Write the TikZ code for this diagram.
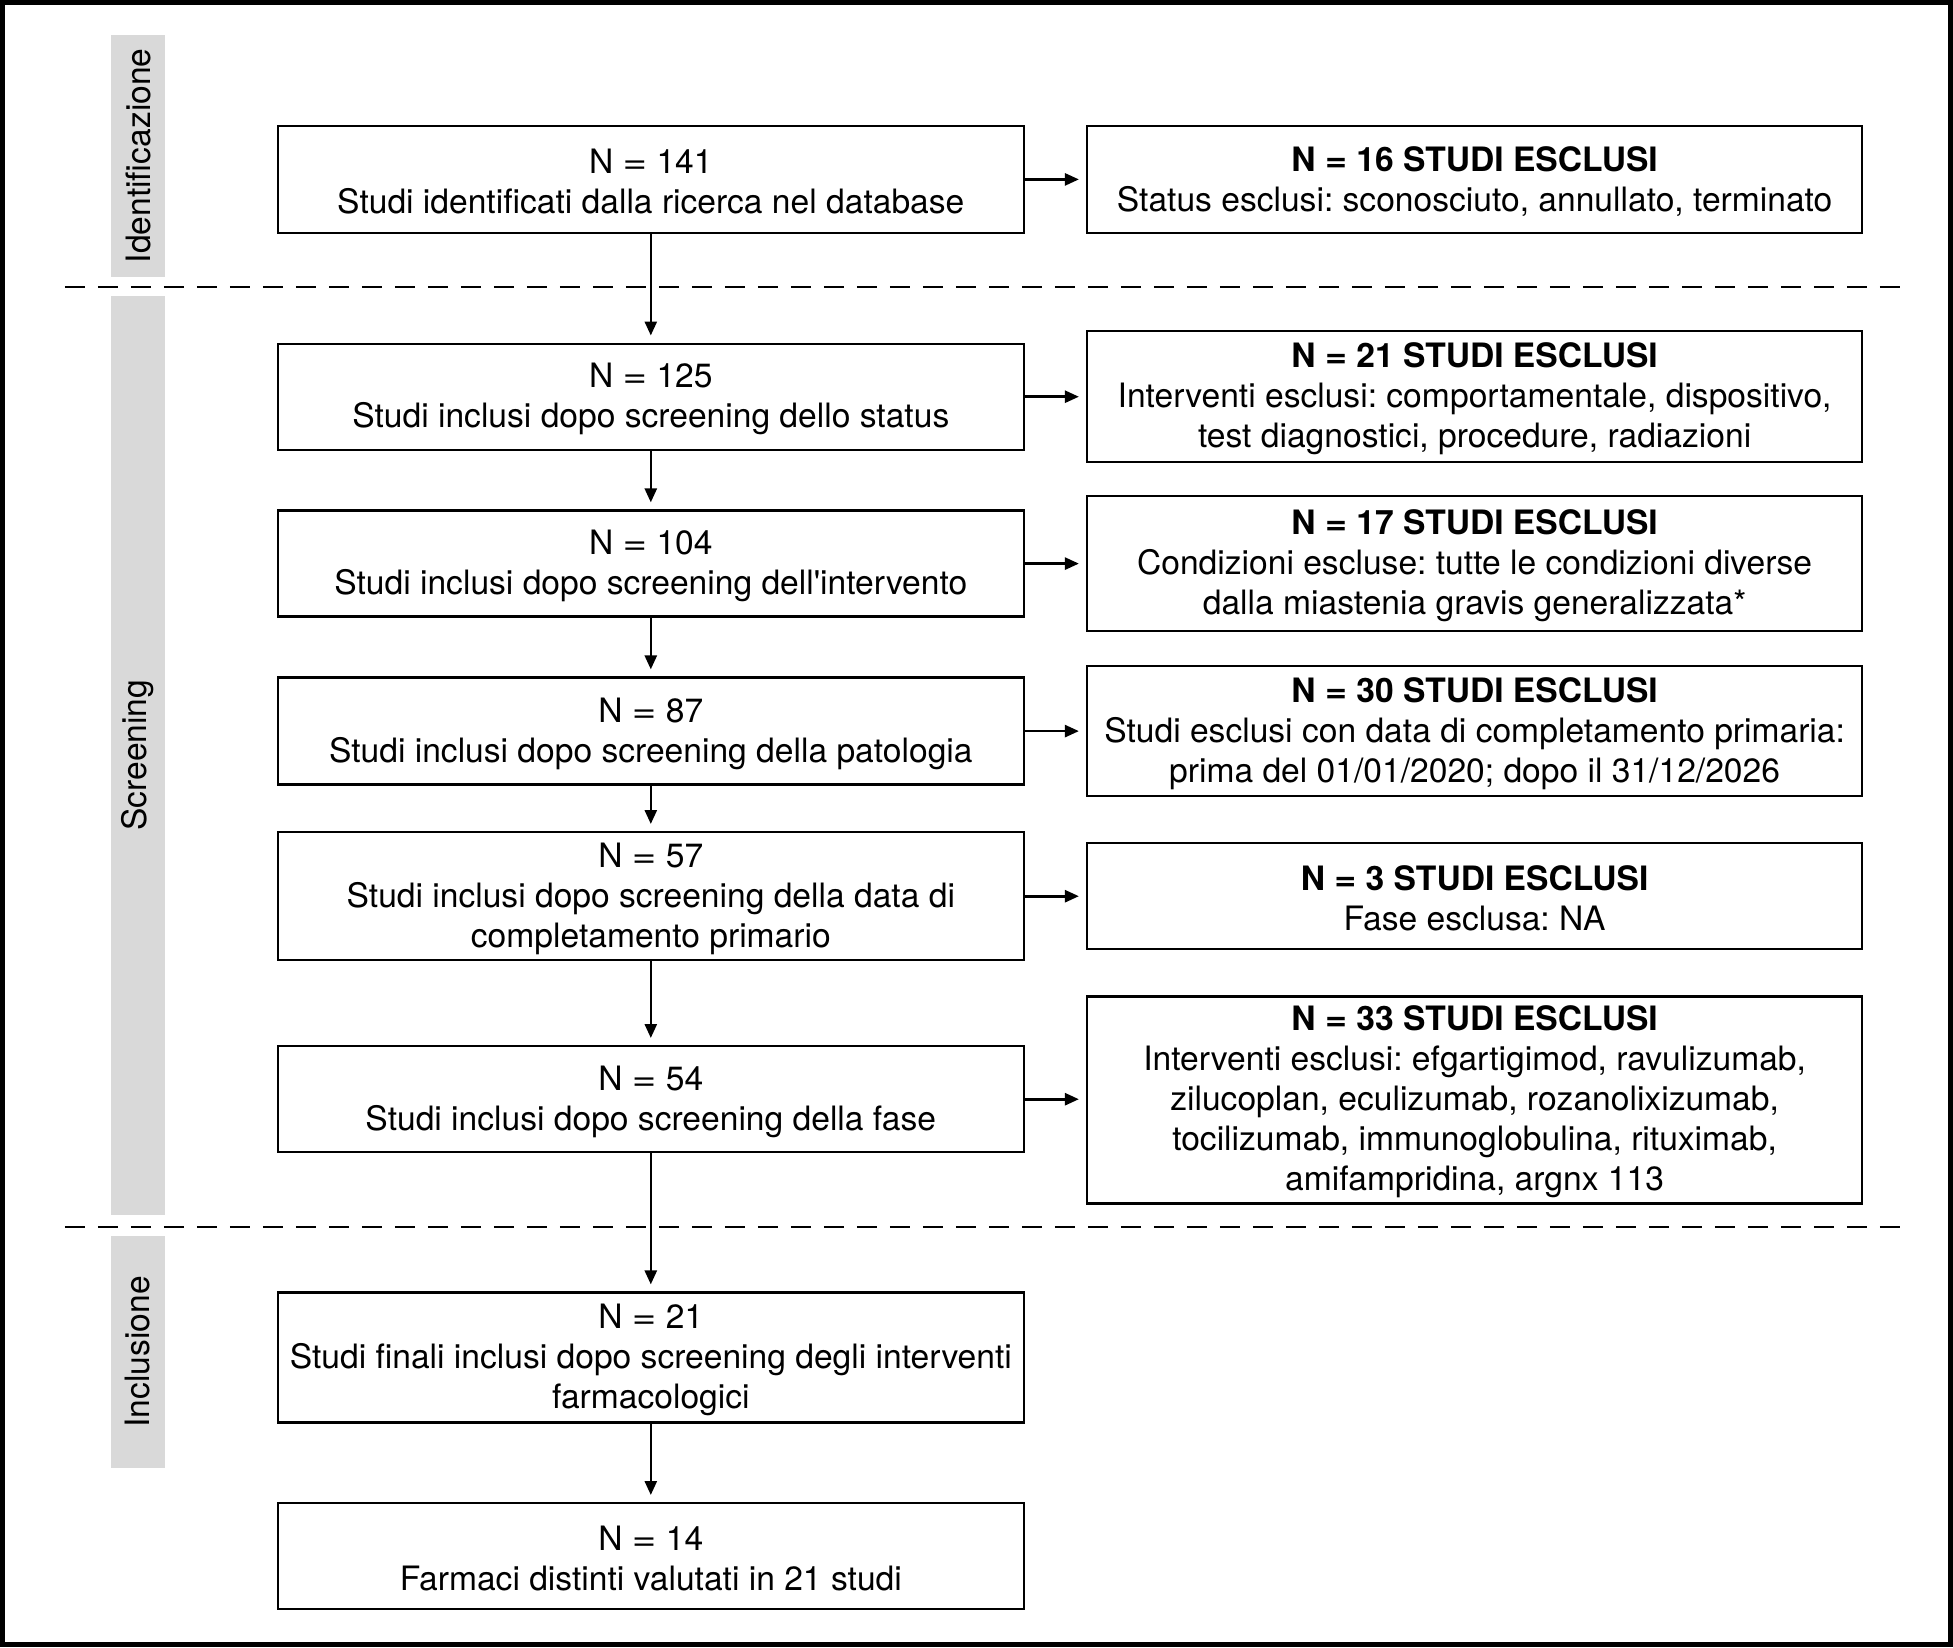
\documentclass[tikz,border=0pt]{standalone}
\usepackage{fontspec}
\usepackage{graphicx}
\setmainfont{TeX Gyre Heros}[Ligatures=TeXOff]
\usetikzlibrary{arrows.meta}
\definecolor{sidegray}{RGB}{217,217,217}
\frenchspacing
\newcommand{\myeq}{\space\scalebox{1.25}[1]{=}\space}
\newcommand{\myeqb}{\space\scalebox{1.12}[1]{=}\space}
\newcommand{\mystrut}{\rule{0pt}{29.5pt}}
\begin{document}
\begin{tikzpicture}[x=1pt,y=-1pt,
  box/.style={draw=black, line width=2.4pt, align=center, inner sep=0pt, font=\fontsize{33.6}{40}\selectfont\frenchspacing},
  lbox/.style={box, minimum width=746pt},
  rbox/.style={box, minimum width=775pt},
  arr/.style={line width=2.6pt, -{Stealth[length=14pt,width=12pt,inset=0pt]}, shorten >=7pt},
  sidebar/.style={fill=sidegray, draw=none},
  sidelabel/.style={rotate=90, inner sep=0pt, font=\fontsize{33.6}{40}\selectfont},
  sepline/.style={line width=2pt, dash pattern=on 20pt off 13pt}
]
\useasboundingbox (0,0) rectangle (1953,1647);
\draw[line width=5pt] (2.5,2.5) rectangle (1950.5,1644.5);

% side bars
\fill[sidebar] (111,35) rectangle (165,276.7);
\fill[sidebar] (111,296) rectangle (165,1214.5);
\fill[sidebar] (111,1235.7) rectangle (165,1468);
\node[sidelabel] (sl1) at (138,155.8) {Identificazione};
\node[sidelabel] (sl2) at (138,755.2) {Screening};
\node[sidelabel] (sl3) at (138,1351.8) {Inclusione};

% separators
\draw[sepline] (64.8,286.5) -- (1905.6,286.5);
\draw[sepline] (64.8,1226.8) -- (1905.6,1226.8);

% left boxes
\node[lbox, minimum height=107pt] (l1) at (650.8,179.4) {\mystrut N\myeq 141\\Studi identificati dalla ricerca nel database};
\node[lbox, minimum height=106pt] (l2) at (650.8,396.7) {\mystrut N\myeq 125\\Studi inclusi dopo screening dello status};
\node[lbox, minimum height=106pt] (l3) at (650.8,563.6) {\mystrut N\myeq 104\\Studi inclusi dopo screening dell'intervento};
\node[lbox, minimum height=107pt] (l4) at (650.8,731.1) {\mystrut N\myeq 87\\Studi inclusi dopo screening della patologia};
\node[lbox, minimum height=128pt] (l5) at (650.8,896.2) {\mystrut N\myeq 57\\Studi inclusi dopo screening della data di\\completamento primario};
\node[lbox, minimum height=106pt] (l6) at (650.8,1099.2) {\mystrut N\myeq 54\\Studi inclusi dopo screening della fase};
\node[lbox, minimum height=130pt] (l7) at (650.8,1357.6) {\mystrut N\myeq 21\\Studi finali inclusi dopo screening degli interventi\\farmacologici};
\node[lbox, minimum height=106pt] (l8) at (650.8,1556.2) {\mystrut N\myeq 14\\Farmaci distinti valutati in 21 studi};

% right boxes
\node[rbox, minimum height=107pt] (r1) at (1474.6,179.4) {\mystrut\textbf{N\myeqb 16 STUDI ESCLUSI}\\Status esclusi: sconosciuto, annullato, terminato};
\node[rbox, minimum height=131pt] (r2) at (1474.6,396.7) {\mystrut\textbf{N\myeqb 21 STUDI ESCLUSI}\\Interventi esclusi: comportamentale, dispositivo,\\test diagnostici, procedure, radiazioni};
\node[rbox, minimum height=135pt] (r3) at (1474.6,563.6) {\mystrut\textbf{N\myeqb 17 STUDI ESCLUSI}\\Condizioni escluse: tutte le condizioni diverse\\dalla miastenia gravis generalizzata*};
\node[rbox, minimum height=130pt] (r4) at (1474.6,731.1) {\mystrut\textbf{N\myeqb 30 STUDI ESCLUSI}\\Studi esclusi con data di completamento primaria:\\prima del 01/01/2020; dopo il 31/12/2026};
\node[rbox, minimum height=106pt] (r5) at (1474.6,896.2) {\mystrut\textbf{N\myeqb 3 STUDI ESCLUSI}\\Fase esclusa: NA};
\node[rbox, minimum height=207pt] (r6) at (1474.6,1099.8) {\mystrut\textbf{N\myeqb 33 STUDI ESCLUSI}\\Interventi esclusi: efgartigimod, ravulizumab,\\zilucoplan, eculizumab, rozanolixizumab,\\tocilizumab, immunoglobulina, rituximab,\\amifampridina, argnx 113};

% vertical arrows
\draw[arr] (l1) -- (l2);
\draw[arr] (l2) -- (l3);
\draw[arr] (l3) -- (l4);
\draw[arr] (l4) -- (l5);
\draw[arr] (l5) -- (l6);
\draw[arr] (l6) -- (l7);
\draw[arr] (l7) -- (l8);

% horizontal arrows
\draw[arr] (l1.east) -- (l1.east -| r1.west);
\draw[arr] (l2.east) -- (l2.east -| r2.west);
\draw[arr] (l3.east) -- (l3.east -| r3.west);
\draw[arr] (l4.east) -- (l4.east -| r4.west);
\draw[arr] (l5.east) -- (l5.east -| r5.west);
\draw[arr] (l6.east) -- (l6.east -| r6.west);
\end{tikzpicture}
\end{document}
